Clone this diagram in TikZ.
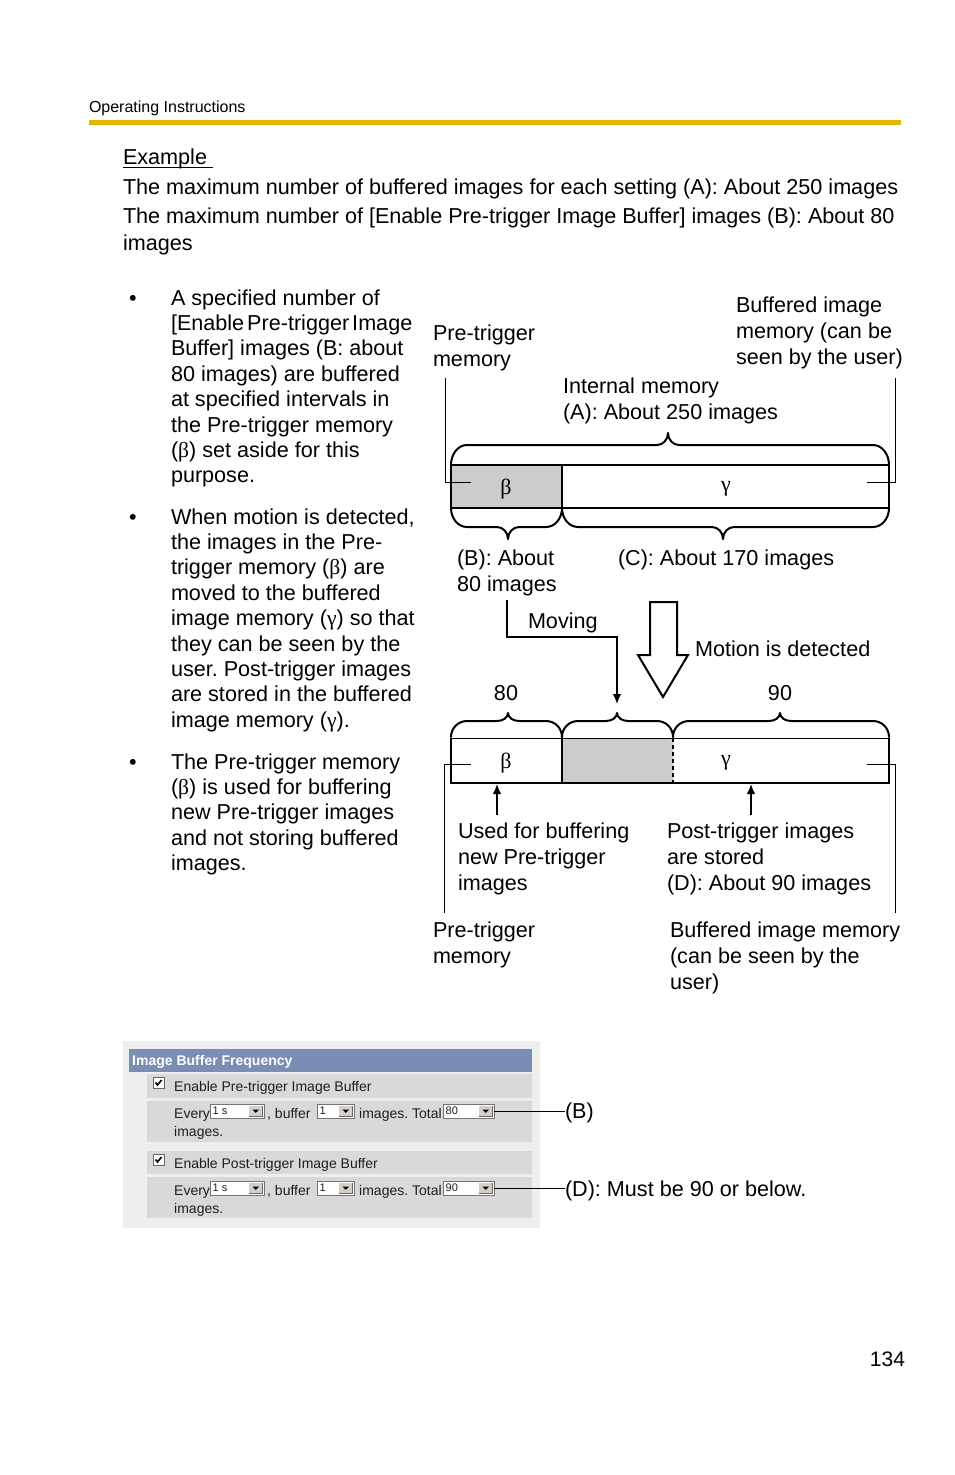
\documentclass[tikz,border=0pt]{standalone}
\usepackage{fontspec}
\setmainfont{Liberation Sans}
\newfontfamily\greekfont{Liberation Serif}
\usetikzlibrary{arrows.meta}
\frenchspacing
\definecolor{baryellow}{RGB}{224,184,0}
\definecolor{memgray}{RGB}{204,204,204}
\definecolor{panelgray}{RGB}{238,238,238}
\definecolor{rowgray}{RGB}{217,217,217}
\definecolor{headblue}{RGB}{122,141,181}
\definecolor{btngray}{RGB}{212,208,200}
\definecolor{uitext}{RGB}{30,30,30}
\newcommand\gr[1]{{\greekfont #1}}
\newcommand\bodyfont{\fontsize{21.6}{25.4}\selectfont}
\newcommand\diagfont{\fontsize{21.6}{26.3}\selectfont}
\newcommand\uifont{\fontsize{14}{18}\selectfont}
% x1, x2, xtip, ybase, yline, ytip
\newcommand\hbrace[6]{\draw[bracestyle] (#1,#4)
  .. controls (#1,{#4+0.55*(#5-#4)}) and ({#1+7},#5) .. ({#1+16},#5)
  -- ({#3-11},#5)
  .. controls ({#3-5},#5) and (#3,{#5+0.45*(#6-#5)}) .. (#3,#6)
  .. controls (#3,{#5+0.45*(#6-#5)}) and ({#3+5},#5) .. ({#3+11},#5)
  -- ({#2-16},#5)
  .. controls ({#2-7},#5) and (#2,{#4+0.55*(#5-#4)}) .. (#2,#4);}
% name, x1, x2, ytop, text
\newcommand\uidrop[5]{%
  \draw[draw=black!55, fill=white] (#2,#4) rectangle (#3,{#4+14});
  \fill[btngray] ({#3-15},{#4+1.5}) rectangle ({#3-1.5},{#4+12.5});
  \draw[black!60, line width=0.8] ({#3-15},{#4+12.5}) -- ({#3-1.5},{#4+12.5}) -- ({#3-1.5},{#4+1.5});
  \fill ({#3-11.5},{#4+5.5}) -- ({#3-5},{#4+5.5}) -- ({#3-8.25},{#4+9}) -- cycle;
  \node[uismall] at ({#2+2.5},{#4+10.5}) {#5};
  \coordinate (#1) at (#3,{#4+7});}
\newcommand\uicheck[2]{%
  \draw[draw=black!60, fill=white, line width=0.8] (#1,#2) rectangle ({#1+11},{#2+11});
  \draw[line width=1.6] ({#1+2.5},{#2+5.5}) -- ({#1+4.5},{#2+8}) -- ({#1+8.5},{#2+3});}
\begin{document}
\begin{tikzpicture}[x=1pt, y=-1pt,
  txt/.style={anchor=base west, inner sep=0, outer sep=0, font=\bodyfont, align=left},
  dtxt/.style={txt, font=\diagfont},
  bul/.style={anchor=base, inner sep=0, font=\bodyfont},
  bracestyle/.style={line width=2, line join=round, line cap=round},
  barline/.style={line width=2},
  leader/.style={line width=1},
  uit/.style={anchor=base west, inner sep=0, font=\uifont, text=uitext},
  uismall/.style={anchor=base west, inner sep=0, font=\fontsize{11}{13}\selectfont, text=uitext},
  tip/.style={-{Latex[length=10pt,width=8.5pt]}, line width=1.6}]
\useasboundingbox (0,0) rectangle (954,1475);
\fill[white] (0,0) rectangle (954,1475);

% header (multi-line nodes are placed by the baseline of their last line)
\node[txt, font=\fontsize{16}{19}\selectfont] (hdr) at (89,112.5) {Operating Instructions};
\fill[baryellow] (89,120) rectangle (901,125);

\node[txt] (ex) at (123,164) {Example};
\draw[line width=1.2] (123,167.5) -- (213,167.5);
\node[txt] (l1) at (123,194) {The maximum number of buffered images for each setting (A): About 250 images};
\node[txt, font=\fontsize{21.6}{27}\selectfont] (l2) at (123,250) {The maximum number of [Enable Pre-trigger Image Buffer] images (B): About 80\\images};

% bullets
\node[bul] (b1) at (133,305) {•};
\node[txt] (t1) at (171,482.8) {A specified number of\\{[}Enable\hspace{3pt}Pre-trigger\hspace{3pt}Image\\Buffer] images (B: about\\80 images) are buffered\\at specified intervals in\\the Pre-trigger memory\\(\gr{β}) set aside for this\\purpose.};
\node[bul] (b2) at (133,524) {•};
\node[txt] (t2) at (171,727.2) {When motion is detected,\\the images in the Pre-\\trigger memory (\gr{β}) are\\moved to the buffered\\image memory (\gr{γ}) so that\\they can be seen by the\\user. Post-trigger images\\are stored in the buffered\\image memory (\gr{γ}).};
\node[bul] (b3) at (133,769) {•};
\node[txt] (t3) at (171,870.6) {The Pre-trigger memory\\(\gr{β}) is used for buffering\\new Pre-trigger images\\and not storing buffered\\images.};

% ---------- upper diagram ----------
\node[dtxt] (pre1) at (433,366.3) {Pre-trigger\\memory};
\node[dtxt] (buf1) at (736,364.6) {Buffered image\\memory (can be\\seen by the user)};
\node[dtxt] (intm) at (563,419.3) {Internal memory\\(A): About 250 images};

\fill[memgray] (451,465) rectangle (562,508);
\draw[barline] (451,465) rectangle (889,508);
\draw[barline] (562,465) -- (562,508);
\node[inner sep=0, font=\fontsize{22}{24}\greekfont] (beta1) at (506,489) {β};
\node[inner sep=0, font=\fontsize{22}{24}\greekfont] (gamma1) at (726,489) {γ};

\hbrace{451}{889}{668}{465}{445}{433}
\hbrace{451}{562}{508}{508}{527}{539}
\hbrace{562}{889}{723}{508}{527}{539}

\coordinate (lT1) at (445,378);
\coordinate (rT1) at (895,378);
\coordinate (lA1) at (471,482);
\coordinate (rA1) at (867,482);
\draw[leader] (lT1) |- (lA1);
\draw[leader] (rT1) |- (rA1);

\node[dtxt] (bab) at (457,591.3) {(B): About\\80 images};
\node[dtxt] (cab) at (618,565) {(C): About 170 images};

% moving arrow
\coordinate (mv0) at (507,600);
\coordinate (mv1) at (617,704);
\draw[tip, line width=1.6] (mv0) -- (507,637) -| (mv1);
\node[dtxt] (moving) at (528,628) {Moving};

% hollow arrow
\draw[line width=2, fill=white, line join=miter] (650,602) -- (677,602) -- (677,655) -- (688,655) -- (663,697) -- (638,655) -- (650,655) -- cycle;
\node[dtxt] (motion) at (695,656) {Motion is detected};

% ---------- lower diagram ----------
\node[dtxt, anchor=base] (n80) at (506,700) {80};
\node[dtxt, anchor=base] (n90) at (780,700) {90};

\hbrace{451}{562}{508}{737}{721}{713}
\hbrace{562}{673}{617}{737}{721}{713}
\hbrace{673}{889}{780}{737}{721}{713}

\fill[memgray] (562,738) rectangle (673,783);
\draw[line width=1] (451,738) -- (889,738);
\draw[barline, line join=miter] (451,738) -- (451,783) -- (889,783) -- (889,738);
\draw[barline] (562,738) -- (562,783);
\draw[line width=1.5, dash pattern=on 4pt off 3pt] (673,738) -- (673,783);
\node[inner sep=0, font=\fontsize{22}{24}\greekfont] (beta2) at (506,763) {β};
\node[inner sep=0, font=\fontsize{22}{24}\greekfont] (gamma2) at (726,763) {γ};

\coordinate (lA2) at (471,764);
\coordinate (rA2) at (867,764);
\coordinate (lB2) at (444,913);
\coordinate (rB2) at (895,913);
\draw[leader] (lA2) -| (lB2);
\draw[leader] (rA2) -| (rB2);

\coordinate (up1a) at (497,815);
\coordinate (up1b) at (497,784);
\coordinate (up2a) at (751,815);
\coordinate (up2b) at (751,784);
\draw[tip] (up1a) -- (up1b);
\draw[tip] (up2a) -- (up2b);

\node[dtxt] (usedf) at (458,890.6) {Used for buffering\\new Pre-trigger\\images};
\node[dtxt] (postt) at (667,890.6) {Post-trigger images\\are stored\\(D): About 90 images};
\node[dtxt] (pre2) at (433,963.3) {Pre-trigger\\memory};
\node[dtxt] (buf2) at (670,989.6) {Buffered image memory\\(can be seen by the\\user)};

% ---------- UI screenshot ----------
\fill[panelgray] (123,1041) rectangle (540,1228);
\fill[headblue] (129,1049) rectangle (532,1072);
\node[uit, text=white, font=\fontsize{14}{16}\selectfont\bfseries] (uititle) at (132,1065) {Image Buffer Frequency};
\fill[rowgray] (147,1074) rectangle (532,1098);
\fill[rowgray] (147,1101) rectangle (532,1142);
\fill[rowgray] (147,1151) rectangle (532,1174);
\fill[rowgray] (147,1177) rectangle (532,1218);

\uicheck{153}{1077}
\node[uit] (en1) at (174,1091) {Enable Pre-trigger Image Buffer};
\node[uit] (ev1) at (174,1118) {Every};
\uidrop{dd1a}{210}{264}{1104}{1 s}
\node[uit] (bf1) at (267,1118) {, buffer};
\uidrop{dd1b}{317}{354}{1104}{1}
\node[uit] (im1) at (359,1118) {images. Total};
\uidrop{tot1}{443}{494}{1104}{80}
\node[uit] (imb1) at (174,1136) {images.};

\uicheck{153}{1154}
\node[uit] (en2) at (174,1168) {Enable Post-trigger Image Buffer};
\node[uit] (ev2) at (174,1195) {Every};
\uidrop{dd2a}{210}{264}{1181}{1 s}
\node[uit] (bf2) at (267,1195) {, buffer};
\uidrop{dd2b}{317}{354}{1181}{1}
\node[uit] (im2) at (359,1195) {images. Total};
\uidrop{tot2}{443}{494}{1181}{90}
\node[uit] (imb2) at (174,1213) {images.};

\node[txt] (lblB) at (565,1118.5) {(B)};
\node[txt] (lblD) at (565,1196.5) {(D): Must be 90 or below.};
\draw[leader] (tot1) -- (tot1 -| lblB.west);
\draw[leader] (tot2) -- (tot2 -| lblD.west);

\node[txt, anchor=base east, font=\fontsize{21}{24}\selectfont] (pg) at (905,1366.5) {134};
\end{tikzpicture}
\end{document}
